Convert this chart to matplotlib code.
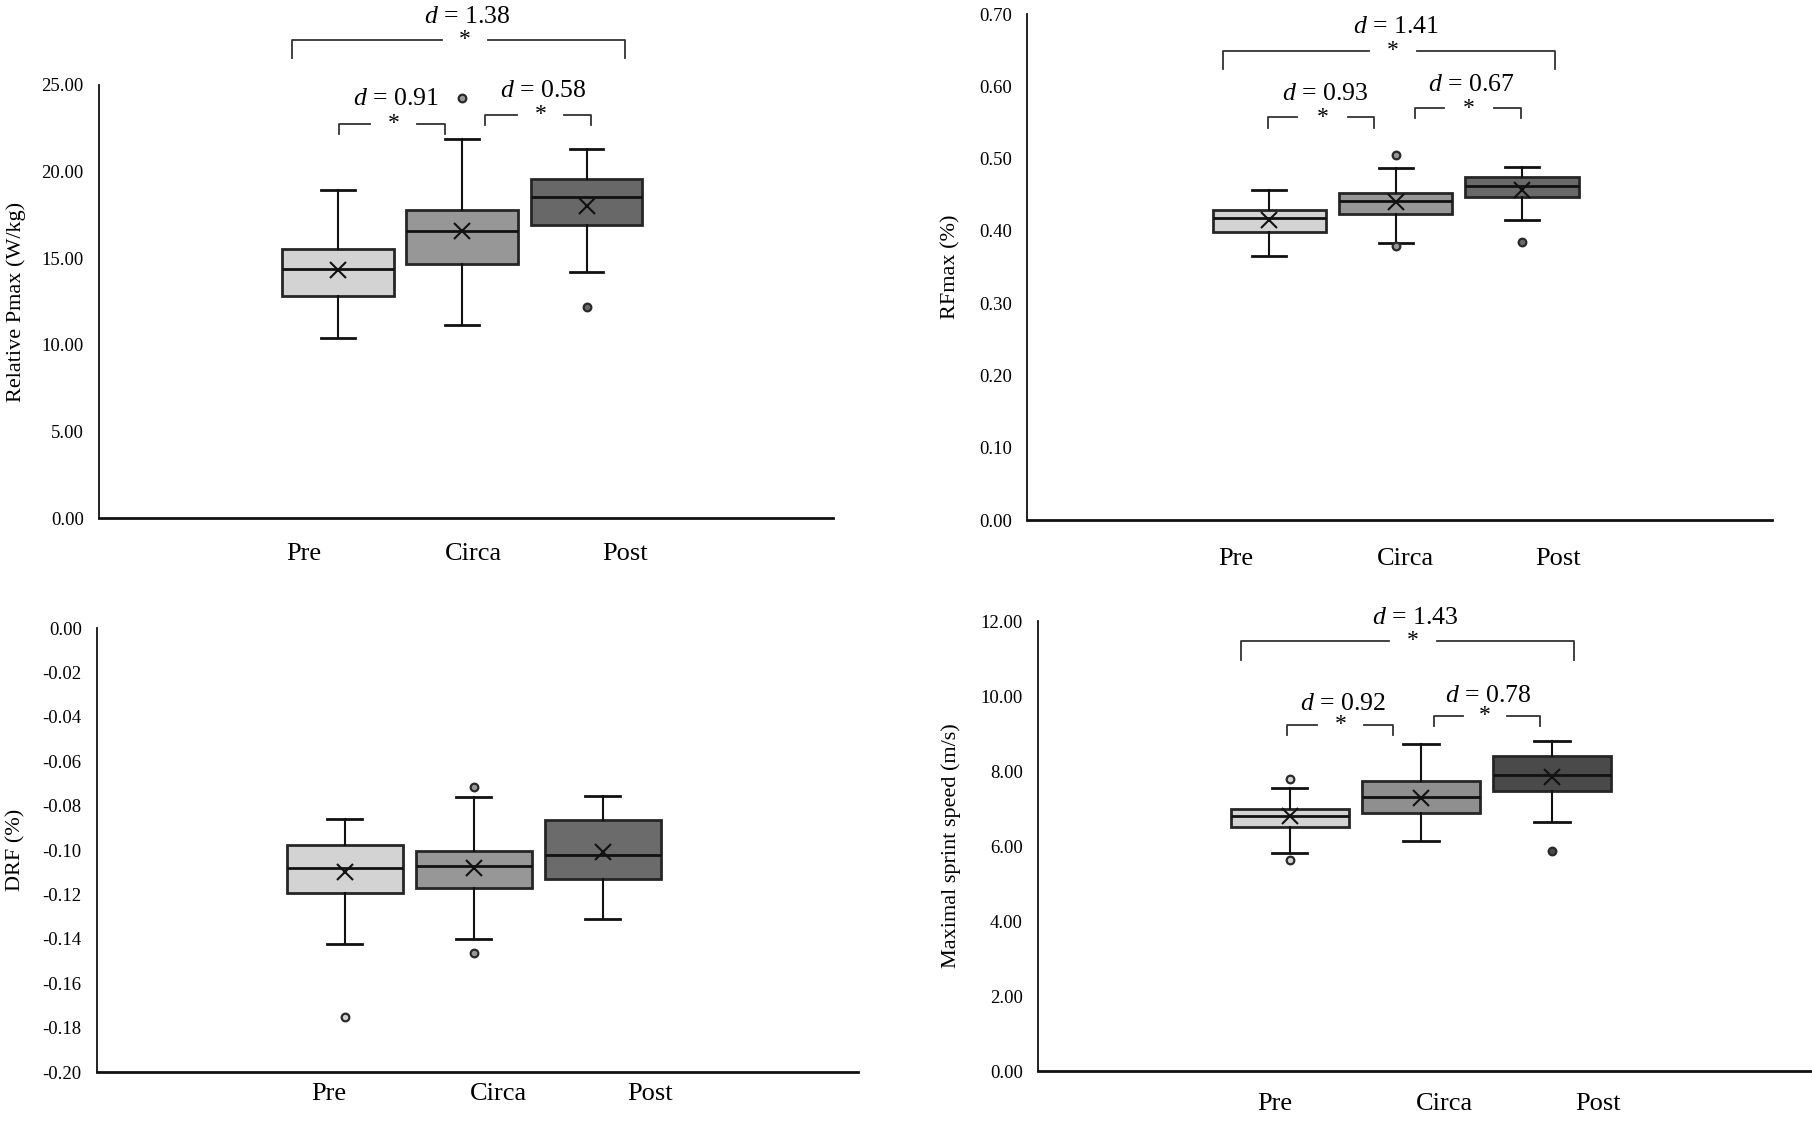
import numpy as np
import matplotlib
matplotlib.use("Agg")
import matplotlib.pyplot as plt
from matplotlib.ticker import FuncFormatter

plt.rcParams['font.family'] = ['Liberation Serif', 'DejaVu Serif']
plt.rcParams['mathtext.fontset'] = 'custom'
plt.rcParams['mathtext.rm'] = 'Liberation Serif'
plt.rcParams['mathtext.it'] = 'Liberation Serif:italic'

# ---- data ----
groups = ['Pre', 'Circa', 'Post']

# Relative Pmax (W/kg)
pmax_q1 = [12.83, 14.68, 16.89]
pmax_med = [14.36, 16.58, 18.52]
pmax_q3 = [15.52, 17.78, 19.60]
pmax_lo = [10.39, 11.14, 14.20]
pmax_hi = [18.96, 21.88, 21.28]
pmax_mean = [14.30, 16.58, 18.03]
pmax_out = [[], [24.23], [12.21]]

# RFmax (%)
rf_q1 = [0.399, 0.423, 0.447]
rf_med = [0.418, 0.442, 0.462]
rf_q3 = [0.429, 0.453, 0.475]
rf_lo = [0.365, 0.383, 0.415]
rf_hi = [0.457, 0.487, 0.489]
rf_mean = [0.415, 0.440, 0.457]
rf_out = [[], [0.505, 0.379], [0.384]]

# DRF (%)
drf_q1 = [-0.1194, -0.1170, -0.1130]
drf_med = [-0.1081, -0.1073, -0.1023]
drf_q3 = [-0.0975, -0.1006, -0.0864]
drf_lo = [-0.1424, -0.1401, -0.1311]
drf_hi = [-0.0861, -0.0763, -0.0755]
drf_mean = [-0.1099, -0.1081, -0.1009]
drf_out = [[-0.1751], [-0.0716, -0.1464], []]

# Maximal sprint speed (m/s)
mss_q1 = [6.50, 6.88, 7.48]
mss_med = [6.81, 7.31, 7.90]
mss_q3 = [6.99, 7.73, 8.40]
mss_lo = [5.81, 6.14, 6.64]
mss_hi = [7.54, 8.71, 8.79]
mss_mean = [6.80, 7.29, 7.85]
mss_out = [[7.80, 5.62], [], [5.88]]

# effect sizes: (pair, d)
pmax_d = [('Pre-Post', '1.38'), ('Pre-Circa', '0.91'), ('Circa-Post', '0.58')]
rf_d = [('Pre-Post', '1.41'), ('Pre-Circa', '0.93'), ('Circa-Post', '0.67')]
mss_d = [('Pre-Post', '1.43'), ('Pre-Circa', '0.92'), ('Circa-Post', '0.78')]


def make_stats(q1, med, q3, lo, hi, mean, out):
    stats = []
    for i in range(len(q1)):
        stats.append(dict(q1=q1[i], med=med[i], q3=q3[i], whislo=lo[i],
                          whishi=hi[i], mean=mean[i], fliers=out[i]))
    return stats


fig = plt.figure(figsize=(18.12, 11.21), dpi=100)

edge = '#262626'


def panel(rect, stats, colors, ylim, yticks, ylabel, ylabel_x, lab_pos, lab_pad):
    ax = fig.add_axes(rect)
    pos = [1, 2, 3]
    bp = ax.bxp(stats, positions=pos, widths=0.9, showmeans=True,
                patch_artist=True, capwidths=0.27,
                boxprops=dict(edgecolor=edge, linewidth=2.0),
                medianprops=dict(color='#111111', linewidth=2.0),
                whiskerprops=dict(color='#111111', linewidth=1.5),
                capprops=dict(color='#111111', linewidth=2.0),
                meanprops=dict(marker='x', markeredgecolor='#111111',
                               markersize=11, markeredgewidth=1.5))
    for patch, c in zip(bp['boxes'], colors):
        patch.set_facecolor(c)
    for fl, c in zip(bp['fliers'], colors):
        fl.set(marker='o', markerfacecolor=c, markeredgecolor='#2a2a2a',
               markersize=5.5, markeredgewidth=1.6)
    ax.set_xlim(-0.92, 4.98)
    ax.set_ylim(*ylim)
    ax.set_yticks(yticks)
    ax.yaxis.set_major_formatter(FuncFormatter(lambda v, p: '%.2f' % (v + 0.0) if abs(v) > 1e-9 else '0.00'))
    ax.set_xticks(lab_pos)
    ax.set_xticklabels(groups, fontsize=19)
    ax.tick_params(axis='x', length=0, pad=lab_pad)
    ax.tick_params(axis='y', length=0, pad=11, labelsize=13.5)
    for s in ['top', 'right']:
        ax.spines[s].set_visible(False)
    ax.spines['left'].set_linewidth(1.3)
    ax.spines['bottom'].set_linewidth(2.0)
    ax.spines['left'].set_color('#111111')
    ax.spines['bottom'].set_color('#111111')
    bb = ax.get_position()
    fig.text(ylabel_x, bb.y0 + bb.height / 2, ylabel, rotation=90,
             ha='center', va='center', fontsize=16)
    return ax


def bracket(ax, x0, x1, ytop, yend, xs, gap, ytxt, dval):
    kw = dict(color='#333333', linewidth=1.3, clip_on=False)
    ax.plot([x0, x0, xs - gap], [yend, ytop, ytop], **kw)
    ax.plot([xs + gap, x1, x1], [ytop, ytop, yend], **kw)
    ax.text(xs, ytop, '*', ha='center', va='center', fontsize=17, clip_on=False)
    ax.text(xs + 0.02, ytxt, '$d$ = ' + dval, ha='center', va='center',
            fontsize=18.5, clip_on=False)


# top left: Relative Pmax
ax1 = panel([0.0546, 0.5379, 0.405, 0.3863],
            make_stats(pmax_q1, pmax_med, pmax_q3, pmax_lo, pmax_hi, pmax_mean, pmax_out),
            ['#d3d3d3', '#979797', '#686868'], (0, 25), [0, 5, 10, 15, 20, 25],
            'Relative Pmax (W/kg)', 0.009, [0.73, 2.09, 3.31], 18)
bracket(ax1, 0.63, 3.31, 27.6, 26.54, 2.02, 0.185, 28.94, pmax_d[0][1])
bracket(ax1, 1.01, 1.86, 22.75, 22.15, 1.45, 0.19, 24.17, pmax_d[1][1])
bracket(ax1, 2.18, 3.04, 23.27, 22.7, 2.63, 0.19, 24.67, pmax_d[2][1])

# top right: RFmax
ax2 = panel([0.5668, 0.536, 0.411, 0.4515],
            make_stats(rf_q1, rf_med, rf_q3, rf_lo, rf_hi, rf_mean, rf_out),
            ['#d3d3d3', '#979797', '#696969'], (0, 0.70),
            [0, 0.1, 0.2, 0.3, 0.4, 0.5, 0.6, 0.7],
            'RFmax (%)', 0.525, [0.73, 2.08, 3.29], 20)
bracket(ax2, 0.63, 3.26, 0.649, 0.6235, 1.98, 0.19, 0.682, rf_d[0][1])
bracket(ax2, 0.99, 1.83, 0.557, 0.543, 1.42, 0.2, 0.589, rf_d[1][1])
bracket(ax2, 2.15, 2.99, 0.5697, 0.556, 2.58, 0.2, 0.602, rf_d[2][1])

# bottom left: DRF
ax3 = panel([0.0535, 0.0437, 0.42, 0.396],
            make_stats(drf_q1, drf_med, drf_q3, drf_lo, drf_hi, drf_mean, drf_out),
            ['#d3d3d3', '#979797', '#6b6b6b'], (-0.20, 0.0),
            list(np.round(np.arange(-0.20, 0.001, 0.02), 2)),
            'DRF (%)', 0.009, [0.88, 2.19, 3.37], 8)

# bottom right: maximal sprint speed
ax4 = panel([0.5728, 0.0446, 0.427, 0.4014],
            make_stats(mss_q1, mss_med, mss_q3, mss_lo, mss_hi, mss_mean, mss_out),
            ['#d3d3d3', '#8f8f8f', '#4a4a4a'], (0, 12), [0, 2, 4, 6, 8, 10, 12],
            'Maximal sprint speed (m/s)', 0.525, [0.885, 2.18, 3.35], 16)
bracket(ax4, 0.63, 3.17, 11.47, 10.97, 1.94, 0.18, 12.09, mss_d[0][1])
bracket(ax4, 0.98, 1.79, 9.24, 8.95, 1.39, 0.18, 9.8, mss_d[1][1])
bracket(ax4, 2.10, 2.91, 9.48, 9.2, 2.49, 0.17, 9.99, mss_d[2][1])

fig.savefig('out.png', dpi=100)
